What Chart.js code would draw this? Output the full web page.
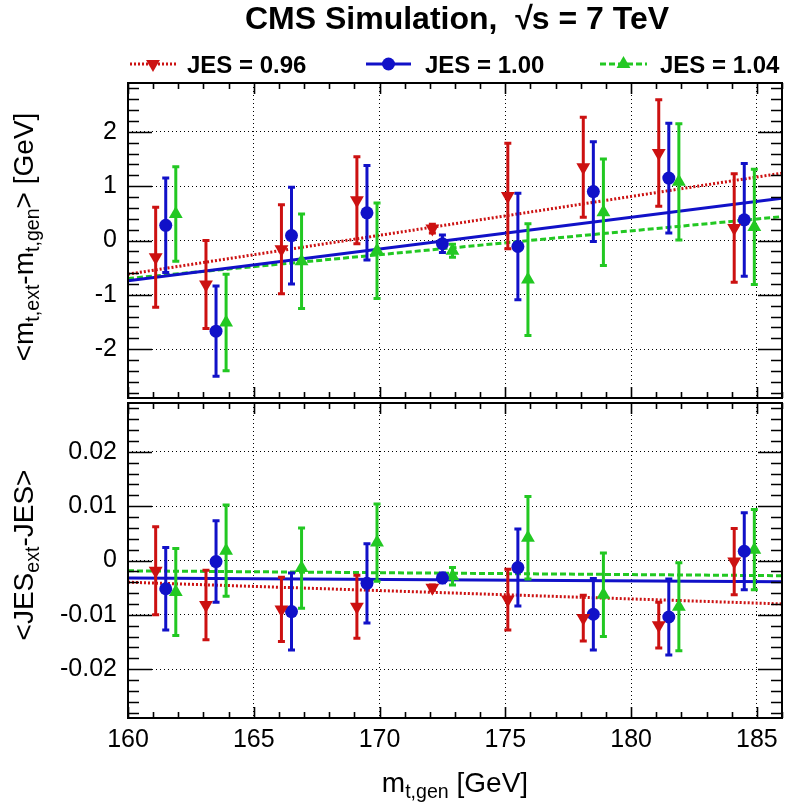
<!DOCTYPE html>
<html><head><meta charset="utf-8">
<script src="https://cdn.jsdelivr.net/npm/chart.js@4.4.1/dist/chart.umd.min.js"></script>
<style>
html,body{margin:0;padding:0;background:#fff;}
#wrap{position:relative;width:786px;height:806px;overflow:hidden;font-family:"Liberation Sans",Arial,Helvetica,sans-serif;color:#000;background:#fff;}
#topBox{position:absolute;left:0;top:0;width:786px;height:400px;}
#botBox{position:absolute;left:0;top:400px;width:786px;height:406px;}
.txt{position:absolute;white-space:nowrap;}
#title{left:457px;top:2px;font-size:32px;line-height:32px;font-weight:bold;transform:translateX(-50%);}
.sq{border-top:2px solid #000;padding-top:0px;margin-left:-1px;}
.leg{top:53px;font-size:24px;line-height:24px;font-weight:bold;}
sub{font-size:0.7em;vertical-align:baseline;position:relative;top:0.3em;}
.ytitle{font-size:28px;line-height:34px;height:34px;width:360px;text-align:center;transform:rotate(-90deg);}
#xtitle{left:455px;top:769px;font-size:28px;line-height:28px;transform:translateX(-50%);}
svg{position:absolute;left:0;top:0;}
</style>
</head>
<body>
<div id="wrap">
  <div id="topBox"><canvas id="cTop" width="786" height="400"></canvas></div>
  <div id="botBox"><canvas id="cBot" width="786" height="406"></canvas></div>
  <div id="title" class="txt">CMS Simulation,&nbsp;&nbsp;√<span class="sq">s</span> = 7 TeV</div>
  <svg width="786" height="90" id="legSvg"></svg>
  <div class="txt leg" id="leg0" style="left:187px"></div>
  <div class="txt leg" id="leg1" style="left:425px"></div>
  <div class="txt leg" id="leg2" style="left:660px"></div>
  <div class="txt ytitle" style="left:-156px;top:220px">&lt;m<sub>t,ext</sub>-m<sub>t,gen</sub>&gt; [GeV]</div>
  <div class="txt ytitle" style="left:-156px;top:538px">&lt;JES<sub>ext</sub>-JES&gt;</div>
  <div id="xtitle" class="txt">m<sub>t,gen</sub> [GeV]</div>
</div>
<script>
// ---------------- data ----------------
const masses = [161.5, 163.5, 166.5, 169.5, 172.5, 175.5, 178.5, 181.5, 184.5];
const seriesLabels = ['JES = 0.96', 'JES = 1.00', 'JES = 1.04'];
const xTickValues = [160, 165, 170, 175, 180, 185];
const xTickLabels = ['160', '165', '170', '175', '180', '185'];
const yTickValuesTop = [-2, -1, 0, 1, 2];
const yTickLabelsTop = ['-2', '-1', '0', '1', '2'];
const yTickValuesBot = [-0.02, -0.01, 0, 0.01, 0.02];
const yTickLabelsBot = ['-0.02', '-0.01', '0', '0.01', '0.02'];
const fitX = [160, 186];

// top panel: <m_t,ext - m_t,gen> [GeV]
const dm096    = [-0.31, -0.81, -0.16, 0.74, 0.22, 0.82, 1.35, 1.61, 0.23];
const dm096Err = [0.92, 0.81, 0.82, 0.80, 0.08, 0.97, 0.92, 0.98, 1.00];
const dm100    = [0.28, -1.67, 0.09, 0.51, -0.06, -0.11, 0.90, 1.15, 0.38];
const dm100Err = [0.87, 0.83, 0.89, 0.87, 0.16, 0.98, 0.92, 1.01, 1.04];
const dm104    = [0.49, -1.51, -0.38, -0.19, -0.19, -0.72, 0.52, 1.08, 0.25];
const dm104Err = [0.87, 0.89, 0.87, 0.88, 0.12, 1.03, 0.98, 1.07, 1.06];
const fitDm096 = [-0.62, 1.24];
const fitDm100 = [-0.74, 0.78];
const fitDm104 = [-0.70, 0.44];

// bottom panel: <JES_ext - JES>
const dj096    = [-0.0019, -0.0082, -0.0090, -0.0085, -0.0050, -0.0072, -0.0106, -0.0119, -0.0002];
const dj096Err = [0.0081, 0.0064, 0.0059, 0.0058, 0.0005, 0.0056, 0.0042, 0.0042, 0.0061];
const dj100    = [-0.0052, -0.0002, -0.0094, -0.0042, -0.0032, -0.0013, -0.0099, -0.0104, 0.0017];
const dj100Err = [0.0076, 0.0075, 0.0071, 0.0073, 0.0009, 0.0071, 0.0066, 0.0070, 0.0071];
const dj104    = [-0.0058, 0.0018, -0.0014, 0.0033, -0.0029, 0.0042, -0.0063, -0.0085, 0.0020];
const dj104Err = [0.0080, 0.0084, 0.0074, 0.0071, 0.0016, 0.0076, 0.0077, 0.0081, 0.0074];
const fitDj096 = [-0.0040, -0.0080];
const fitDj100 = [-0.0032, -0.0039];
const fitDj104 = [-0.0019, -0.0028];

// ---------------- styles ----------------
const RED = '#cc1111', BLUE = '#1111c8', GREEN = '#22c822';
const styles = [
  {color: RED,   pstyle: 'triangle', rot: 180, r: 8, dash: [2, 2], offset: -0.4},
  {color: BLUE,  pstyle: 'circle',   rot: 0,   r: 6.5, dash: [],     offset: 0},
  {color: GREEN, pstyle: 'triangle', rot: 0,   r: 8, dash: [6, 3], offset: 0.4}
];

Chart.defaults.font.family = '"Liberation Sans", Arial, Helvetica, sans-serif';
Chart.defaults.color = '#000';

function pts(vals, off) { return masses.map((m, i) => ({x: m + off, y: vals[i]})); }
function fitPts(vals) { return fitX.map((x, i) => ({x: x, y: vals[i]})); }

function buildDatasets(vals, errs, fits) {
  const ds = [];
  for (let k = 0; k < 3; k++) {
    const s = styles[k];
    ds.push({label: seriesLabels[k] + ' fit', data: fitPts(fits[k]), showLine: true,
      borderColor: s.color, borderWidth: 3, borderDash: s.dash, pointRadius: 0,
      fill: false, tension: 0, order: 2});
  }
  for (let k = 0; k < 3; k++) {
    const s = styles[k];
    ds.push({label: seriesLabels[k], data: pts(vals[k], s.offset), errors: errs[k], showLine: false,
      borderColor: s.color, backgroundColor: s.color, pointStyle: s.pstyle, rotation: s.rot,
      pointRadius: s.r, pointBorderWidth: 0, order: 1});
  }
  return ds;
}

const errorBars = {
  id: 'errorBars',
  beforeDatasetDraw(chart, args) {
    const ds = chart.data.datasets[args.index];
    if (!ds.errors) return;
    const ctx = chart.ctx, x = chart.scales.x, y = chart.scales.y;
    ctx.save();
    ctx.strokeStyle = ds.borderColor; ctx.lineWidth = 3; ctx.lineCap = 'butt';
    ds.data.forEach((p, i) => {
      const e = ds.errors[i];
      const px = x.getPixelForValue(p.x);
      const yt = y.getPixelForValue(p.y + e), yb = y.getPixelForValue(p.y - e);
      ctx.beginPath();
      ctx.moveTo(px, yt); ctx.lineTo(px, yb);
      ctx.moveTo(px - 3.5, yt); ctx.lineTo(px + 3.5, yt);
      ctx.moveTo(px - 3.5, yb); ctx.lineTo(px + 3.5, yb);
      ctx.stroke();
    });
    ctx.restore();
  }
};

const frameTicks = {
  id: 'frameTicks',
  afterDraw(chart, args, opts) {
    const ctx = chart.ctx, a = chart.chartArea, x = chart.scales.x, y = chart.scales.y;
    ctx.save();
    ctx.strokeStyle = '#000';
    ctx.lineWidth = 1.6;
    ctx.beginPath();
    const ys = opts.yMinor, yM = opts.yMajor;
    for (let n = Math.ceil(y.min / ys - 1e-6); n <= Math.floor(y.max / ys + 1e-6); n++) {
      const v = n * ys;
      const major = Math.abs(v / yM - Math.round(v / yM)) < 1e-6;
      const L = major ? 24 : 11;
      const py = Math.round(y.getPixelForValue(v)) + 0.5;
      ctx.moveTo(a.left, py); ctx.lineTo(a.left + L, py);
      ctx.moveTo(a.right, py); ctx.lineTo(a.right - L, py);
    }
    for (let n = Math.ceil(x.min); n <= Math.floor(x.max); n++) {
      const major = n % 5 === 0;
      const L = major ? 11 : 6;
      const px = Math.round(x.getPixelForValue(n)) + 0.5;
      ctx.moveTo(px, a.top); ctx.lineTo(px, a.top + L);
      ctx.moveTo(px, a.bottom); ctx.lineTo(px, a.bottom - L);
    }
    ctx.stroke();
    ctx.lineWidth = 2;
    ctx.strokeRect(a.left, a.top, a.right - a.left, a.bottom - a.top);
    ctx.restore();
  }
};

function makeChart(id, vals, errs, fits, yMin, yMax, yTickVals, yTickLabs, yMinor, yMajor, pad, showX, xHeight) {
  return new Chart(document.getElementById(id), {
    type: 'scatter',
    data: {datasets: buildDatasets(vals, errs, fits)},
    options: {
      responsive: false, animation: false, devicePixelRatio: 1,
      layout: {padding: pad, autoPadding: false},
      plugins: {legend: {display: false}, tooltip: {enabled: false}, frameTicks: {yMinor: yMinor, yMajor: yMajor}},
      scales: {
        x: {
          type: 'linear', min: 160, max: 186,
          afterBuildTicks: s => { s.ticks = xTickValues.map(v => ({value: v})); },
          afterFit: s => { s.height = xHeight; s.paddingLeft = 0; s.paddingRight = 0; s.paddingTop = 0; s.paddingBottom = 0; },
          ticks: {display: showX, font: {size: 25}, color: '#000', padding: 7, maxRotation: 0,
            callback: (v, i) => xTickLabels[i]},
          grid: {color: '#000', lineWidth: 1, drawTicks: false},
          border: {display: false, dash: [1, 3]}
        },
        y: {
          type: 'linear', min: yMin, max: yMax,
          afterBuildTicks: s => { s.ticks = yTickVals.map(v => ({value: v})); },
          afterFit: s => { s.width = 128; s.paddingTop = 0; s.paddingBottom = 0; s.paddingLeft = 0; s.paddingRight = 0; },
          ticks: {font: {size: 25}, color: '#000', padding: 11, callback: (v, i) => yTickLabs[i]},
          grid: {color: '#000', lineWidth: 1, drawTicks: false},
          border: {display: false, dash: [1, 3]}
        }
      }
    },
    plugins: [errorBars, frameTicks]
  });
}

makeChart('cTop', [dm096, dm100, dm104], [dm096Err, dm100Err, dm104Err], [fitDm096, fitDm100, fitDm104],
  -2.9, 2.9, yTickValuesTop, yTickLabelsTop, 0.2, 1, {top: 83, bottom: 2, left: 0, right: 4}, false, 0);
makeChart('cBot', [dj096, dj100, dj104], [dj096Err, dj100Err, dj104Err], [fitDj096, fitDj100, fitDj104],
  -0.029, 0.029, yTickValuesBot, yTickLabelsBot, 0.002, 0.01, {top: 3, bottom: 0, left: 0, right: 4}, true, 88);

// legend
seriesLabels.forEach((t, k) => { document.getElementById('leg' + k).textContent = t; });
const legSvg = document.getElementById('legSvg');
const legPos = [[130, 176], [366, 411], [600, 647]];
const NS = 'http://www.w3.org/2000/svg';
legPos.forEach((p, k) => {
  const s = styles[k];
  const ln = document.createElementNS(NS, 'line');
  ln.setAttribute('x1', p[0]); ln.setAttribute('x2', p[1]); ln.setAttribute('y1', 64); ln.setAttribute('y2', 64);
  ln.setAttribute('stroke', s.color); ln.setAttribute('stroke-width', 3);
  if (s.dash.length) ln.setAttribute('stroke-dasharray', s.dash.join(','));
  legSvg.appendChild(ln);
  const cx = (p[0] + p[1]) / 2, cy = 64;
  let m;
  if (s.pstyle === 'circle') {
    m = document.createElementNS(NS, 'circle');
    m.setAttribute('cx', cx); m.setAttribute('cy', cy); m.setAttribute('r', s.r);
  } else {
    m = document.createElementNS(NS, 'polygon');
    const r = s.r, d = s.rot === 180 ? -1 : 1;
    m.setAttribute('points', [[cx, cy - d * r], [cx + r * 0.866, cy + d * r * 0.5], [cx - r * 0.866, cy + d * r * 0.5]].map(q => q.join(',')).join(' '));
  }
  m.setAttribute('fill', s.color);
  legSvg.appendChild(m);
});
</script>
</body></html>
